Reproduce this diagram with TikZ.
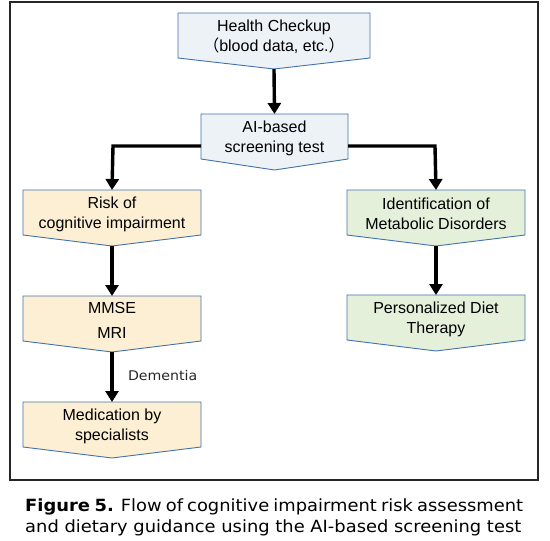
\documentclass[tikz,border=0pt]{standalone}
\usepackage{fontspec}
\setmainfont{Liberation Sans}
\newfontfamily\capfont[FakeStretch=1.065]{DejaVu Sans}
\newfontfamily\cjk{Noto Sans CJK JP}
\usetikzlibrary{arrows.meta}
\definecolor{bord}{HTML}{4172B0}
\definecolor{fblue}{HTML}{EDF2F7}
\definecolor{forange}{HTML}{FDEFD3}
\definecolor{fgreen}{HTML}{E5F0DB}
\tikzset{
  boxtxt/.style={inner sep=0pt, align=center, font=\fontsize{16}{20}\selectfont, text=black},
  flow/.style={line width=3.4pt, -{Triangle[width=13pt,length=11pt]}},
}
% #1 name, #2 center x, #3 top y, #4 half width, #5 fill, #6 text
\newcommand\chevbox[6]{%
  \path[draw=bord, fill=#5, line width=0.9pt]
    ({#2-#4},#3) -- ({#2+#4},#3) -- ({#2+#4},{#3+45}) -- (#2,{#3+56}) -- ({#2-#4},{#3+45}) -- cycle;
  \node[boxtxt, minimum width={2*#4}, minimum height=45] (#1) at (#2,{#3+24}) {#6};
  \coordinate (#1-tip) at (#2,{#3+56});
  \coordinate (#1-top) at (#2,#3);
}
\begin{document}
\begin{tikzpicture}[x=1pt,y=-1pt]
\useasboundingbox (0,0) rectangle (550,541);
\draw[line width=1.1pt, draw=black!85] (10,2) rectangle (538,480);

\chevbox{hc}{274}{13}{96}{fblue}{Health Checkup\\[0pt]{\cjk （}blood data, etc.{\cjk ）}}
\chevbox{ai}{274.5}{114}{73.5}{fblue}{AI-based\\screening test}
\chevbox{risk}{112}{190}{89}{forange}{Risk of\\cognitive impairment}
\chevbox{mmse}{112}{296}{89}{forange}{MMSE\\[5pt]MRI}
\chevbox{med}{112}{402}{89}{forange}{Medication by\\specialists}
\chevbox{ident}{436}{190}{89}{fgreen}{Identification of\\Metabolic Disorders}
\chevbox{diet}{436}{295}{89}{fgreen}{Personalized Diet\\Therapy}

\coordinate (lc) at (113,146);
\coordinate (rc) at (435,146);
\draw[flow] (hc-tip) -- (ai-top);
\draw[flow] (201,146) -- (lc) -- (risk-top);
\draw[flow] (348,146) -- (rc) -- (ident-top);
\draw[flow] (risk-tip) -- (mmse-top);
\draw[flow] (mmse-tip) -- (med-top) node[pos=0.47, right=11pt, font=\capfont\fontsize{13.3}{15}\selectfont, text=black!85] (dem) {Dementia};
\draw[flow] (ident-tip) -- (diet-top);

\node[anchor=north west, inner sep=0pt, text width=498pt, align=justify,
      font=\capfont\fontsize{16.8}{21}\selectfont] (cap) at (25,499)
  {\textbf{Figure 5.} Flow of cognitive impairment risk assessment\linebreak and dietary guidance using the AI-based screening test};
\end{tikzpicture}
\end{document}
